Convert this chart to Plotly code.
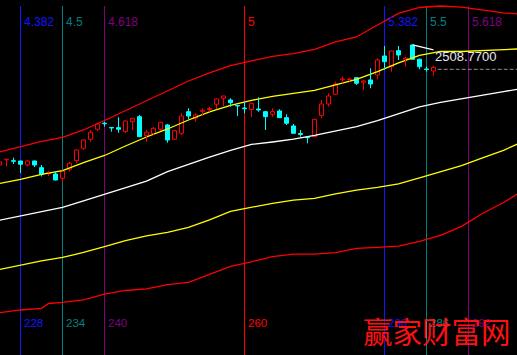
import plotly.graph_objects as go

# ---- candle data (bar index, OHLC) ----
bars = list(range(225, 288))
opens = [2317.4, 2327.8, 2326.0, 2325.4, 2317.4, 2325.4, 2312.0, 2300.0, 2299.4, 2290.8,
         2308.8, 2326.0, 2350.8, 2368.8, 2388.8, 2401.0, 2392.4, 2392.0, 2384.0, 2404.0,
         2414.0, 2376.0, 2380.0, 2388.8, 2397.4, 2368.8, 2380.8, 2424.0, 2410.8, 2424.8,
         2428.4, 2438.8, 2450.8, 2447.4, 2436.4, 2431.4, 2428.4, 2429.4, 2424.0, 2418.8,
         2425.4, 2412.0, 2395.4, 2380.4, 2372.8, 2374.0, 2416.0, 2439.4, 2458.8, 2487.8,
         2488.2, 2492.0, 2482.8, 2487.4, 2497.4, 2535.4, 2514.0, 2546.0, 2529.4, 2557.4,
         2528.8, 2509.4, 2505.4]
highs = [2325.4, 2328.8, 2332.0, 2326.0, 2327.4, 2326.0, 2317.4, 2305.4, 2305.4, 2306.4,
         2324.0, 2348.4, 2368.4, 2387.4, 2401.4, 2404.0, 2393.0, 2412.8, 2406.4, 2411.4,
         2417.4, 2387.4, 2393.4, 2404.0, 2399.4, 2387.4, 2420.8, 2430.8, 2420.8, 2430.8,
         2433.4, 2450.0, 2456.0, 2450.8, 2436.8, 2444.0, 2441.4, 2452.8, 2425.4, 2430.8,
         2428.8, 2418.8, 2399.4, 2387.4, 2373.4, 2409.4, 2447.4, 2460.8, 2484.0, 2494.0,
         2492.0, 2492.4, 2487.4, 2510.8, 2530.8, 2555.4, 2546.0, 2555.4, 2534.0, 2558.0,
         2530.0, 2514.0, 2516.2]
lows = [2314.4, 2314.4, 2319.4, 2301.4, 2314.4, 2313.4, 2294.4, 2295.4, 2286.4, 2283.4,
        2304.0, 2321.4, 2347.4, 2364.0, 2385.4, 2394.0, 2384.0, 2382.0, 2381.4, 2387.4,
        2373.4, 2364.0, 2377.4, 2385.4, 2362.0, 2367.4, 2377.4, 2408.8, 2404.0, 2417.4,
        2424.0, 2428.8, 2435.4, 2434.0, 2415.4, 2420.8, 2413.4, 2424.0, 2387.4, 2414.0,
        2411.4, 2397.4, 2380.4, 2374.0, 2360.8, 2373.4, 2410.8, 2434.0, 2457.4, 2480.8,
        2484.0, 2477.4, 2467.4, 2470.8, 2488.8, 2507.4, 2504.0, 2527.4, 2514.0, 2528.4,
        2508.8, 2504.0, 2496.4]
closes = [2323.4, 2328.8, 2324.8, 2318.8, 2325.4, 2317.4, 2298.8, 2301.4, 2287.4, 2305.4,
          2320.8, 2347.4, 2367.4, 2382.8, 2399.4, 2399.8, 2391.4, 2388.8, 2405.4, 2410.8,
          2374.0, 2382.8, 2390.8, 2402.8, 2367.4, 2386.0, 2415.4, 2415.4, 2417.4, 2426.8,
          2430.4, 2449.4, 2455.4, 2442.0, 2435.4, 2430.0, 2440.8, 2427.4, 2414.0, 2424.0,
          2412.0, 2400.8, 2380.8, 2378.4, 2371.8, 2408.8, 2439.4, 2455.4, 2479.4, 2489.4,
          2489.2, 2480.8, 2485.4, 2479.4, 2527.4, 2524.0, 2545.4, 2537.4, 2531.4, 2528.8,
          2514.0, 2508.4, 2512.6]

# ---- band / moving-average lines ----
band_bars = [225, 228, 231, 234, 237, 240, 243, 246, 249, 252, 255, 258, 261, 264,
             267, 270, 273, 276, 279, 282, 285, 288, 291, 294, 297, 299]
upper_red = [2343.4, 2354.0, 2364.4, 2372.4, 2387.4, 2406.4, 2426.0, 2446.8, 2464.8,
             2485.4, 2501.4, 2516.2, 2525.4, 2534.4, 2540.0, 2548.8, 2563.4, 2573.4,
             2597.4, 2620.4, 2632.4, 2635.4, 2633.0, 2627.0, 2621.8, 2619.4]
upper_yellow = [2280.4, 2288.4, 2298.8, 2306.2, 2322.0, 2336.4, 2355.4, 2373.4, 2389.4,
                2407.4, 2423.4, 2436.4, 2446.8, 2454.4, 2460.4, 2466.4, 2477.4, 2488.4,
                2504.2, 2521.4, 2536.8, 2544.4, 2544.4, 2545.8, 2547.8, 2549.4]
middle_white = [2207.0, 2215.4, 2224.0, 2232.6, 2245.8, 2259.2, 2271.0, 2285.0, 2304.2,
                2319.0, 2333.2, 2346.8, 2358.6, 2363.4, 2369.0, 2376.4, 2384.8, 2394.2,
                2406.0, 2419.4, 2433.4, 2442.8, 2450.4, 2457.4, 2464.2, 2468.8]
lower_yellow = [2108.4, 2117.4, 2125.8, 2132.4, 2142.4, 2154.0, 2166.0, 2175.4, 2182.8,
                2192.4, 2207.8, 2224.8, 2232.8, 2240.8, 2247.0, 2250.8, 2259.4, 2267.0,
                2272.4, 2279.4, 2291.6, 2303.4, 2316.0, 2331.4, 2346.8, 2359.4]
lower_red_bars = [225, 228, 231, 232, 234, 237, 240, 243, 246, 249, 252, 255, 258, 261,
                  264, 267, 270, 273, 276, 279, 282, 285, 288, 291, 294, 297, 299]
lower_red = [2021.8, 2027.4, 2030.6, 2040.4, 2042.8, 2047.8, 2059.0, 2066.4, 2069.8,
             2078.2, 2082.4, 2098.0, 2114.8, 2123.8, 2134.2, 2139.2, 2139.0, 2142.2,
             2150.6, 2152.6, 2155.2, 2164.8, 2176.6, 2194.6, 2220.4, 2242.4, 2259.4]
short_white_bars = [284, 285, 286, 287]
short_white = [2557.4, 2554.0, 2550.8, 2547.4]

# ---- Fibonacci time zones ----
fib_bars = [228, 234, 240, 260, 280, 286, 292]
fib_ratios = ["4.382", "4.5", "4.618", "5", "5.382", "5.5", "5.618"]
fib_colors = ["#1414ff", "#008080", "#800080", "#ff0000", "#1414ff", "#008080", "#800080"]

cursor_value = 2508.77
cursor_label = "2508.7700"
watermark = "赢家财富网"

UP_COLOR = "#ff0000"
DOWN_COLOR = "#00ffff"

fig = go.Figure()

# candle bodies as bars, wicks as line segments
up = {"x": [], "base": [], "h": [], "wx": [], "wy": []}
dn = {"x": [], "base": [], "h": [], "wx": [], "wy": []}
for b, o, h, l, c in zip(bars, opens, highs, lows, closes):
    d = up if c >= o else dn
    top, bot = max(o, c), min(o, c)
    d["x"].append(b)
    d["base"].append(bot)
    d["h"].append(max(top - bot, 0.4))
    if h > top:
        d["wx"] += [b, b, None]
        d["wy"] += [top, h, None]
    if l < bot:
        d["wx"] += [b, b, None]
        d["wy"] += [bot, l, None]

fig.add_trace(go.Bar(x=up["x"], y=up["h"], base=up["base"], width=0.57,
                     marker=dict(color="#000000", line=dict(color=UP_COLOR, width=1)),
                     hoverinfo="skip", showlegend=False))
fig.add_trace(go.Bar(x=dn["x"], y=dn["h"], base=dn["base"], width=0.57,
                     marker=dict(color=DOWN_COLOR, line=dict(color=DOWN_COLOR, width=1)),
                     hoverinfo="skip", showlegend=False))

for xs, ys, col in [(band_bars, upper_red, "#ff0000"),
                    (band_bars, upper_yellow, "#ffff00"),
                    (band_bars, middle_white, "#ffffff"),
                    (band_bars, lower_yellow, "#ffff00"),
                    (lower_red_bars, lower_red, "#ff0000"),
                    (short_white_bars, short_white, "#ffffff")]:
    fig.add_trace(go.Scatter(x=xs, y=ys, mode="lines",
                             line=dict(color=col, width=1.3),
                             hoverinfo="skip", showlegend=False))

fig.add_trace(go.Scatter(x=up["wx"], y=up["wy"], mode="lines",
                         line=dict(color=UP_COLOR, width=1), connectgaps=False,
                         hoverinfo="skip", showlegend=False))
fig.add_trace(go.Scatter(x=dn["wx"], y=dn["wy"], mode="lines",
                         line=dict(color=DOWN_COLOR, width=1), connectgaps=False,
                         hoverinfo="skip", showlegend=False))

# dashed price line after last bar
fig.add_trace(go.Scatter(x=[bars[-1] + 0.6, 300], y=[cursor_value, cursor_value],
                         mode="lines", line=dict(color="#909090", width=1, dash="4px,2px"),
                         hoverinfo="skip", showlegend=False))

shapes = []
annotations = []
for b, r, c in zip(fib_bars, fib_ratios, fib_colors):
    shapes.append(dict(type="line", xref="x", yref="paper", x0=b, x1=b,
                       y0=0, y1=1 - 6 / 355, line=dict(color=c, width=1), layer="below"))
    annotations.append(dict(x=b, y=1 - 22 / 355, xref="x", yref="paper", text=r,
                            showarrow=False, xanchor="left", yanchor="middle", xshift=1,
                            font=dict(family="Liberation Sans", size=12, color=c)))
    annotations.append(dict(x=b, y=1 - 322.5 / 355, xref="x", yref="paper", text=str(b),
                            showarrow=False, xanchor="left", yanchor="middle", xshift=1,
                            font=dict(family="Liberation Sans", size=11.5, color=c)))

annotations.append(dict(x=286.9, y=2534.4, xref="x", yref="y", text=cursor_label,
                        showarrow=False, xanchor="left", yanchor="middle",
                        font=dict(family="Liberation Sans", size=13, color="#e8e8f0")))
annotations.append(dict(x=437 / 517, y=1 - 330 / 355, xref="paper", yref="paper",
                        text=watermark, showarrow=False, xanchor="center", yanchor="middle",
                        font=dict(family="Noto Sans CJK SC", size=29.5, color="#ff1010")))

fig.update_layout(
    width=517, height=355,
    margin=dict(l=0, r=0, t=0, b=0),
    paper_bgcolor="#000000", plot_bgcolor="#000000",
    showlegend=False, barmode="overlay",
    shapes=shapes, annotations=annotations,
    xaxis=dict(range=[225.071, 298.929], visible=False, showgrid=False, zeroline=False),
    yaxis=dict(range=[1937.37, 2647.37], visible=False, showgrid=False, zeroline=False),
)

fig.write_html("out.html", config={"displayModeBar": False})
